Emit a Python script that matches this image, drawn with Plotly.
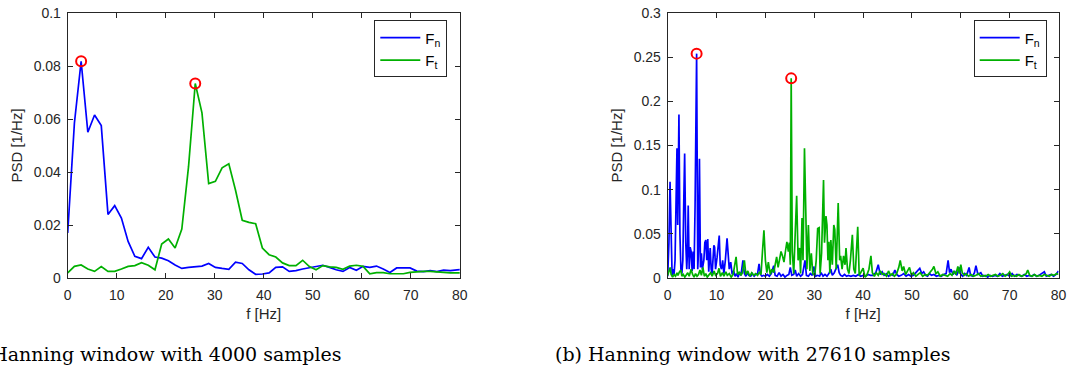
import plotly.graph_objects as go

# ---------------- data: (a) 4000 samples ----------------
DF_A = 1.37
psd_fn_a = [0.017, 0.0585, 0.0818, 0.055, 0.0615, 0.0575, 0.024, 0.0273, 0.0226, 0.0138,
            0.0082, 0.0073, 0.0116, 0.0079, 0.0075, 0.0065, 0.0049, 0.0036, 0.004, 0.0043,
            0.0045, 0.0055, 0.004, 0.0036, 0.0033, 0.006, 0.0055, 0.0031, 0.0014, 0.0015,
            0.0019, 0.004, 0.0042, 0.0025, 0.0028, 0.0034, 0.0038, 0.0044, 0.0048, 0.004,
            0.0031, 0.0025, 0.004, 0.0029, 0.0044, 0.004, 0.0045, 0.0034, 0.0021, 0.0038,
            0.0039, 0.0038, 0.0026, 0.0024, 0.0028, 0.0024, 0.003, 0.0028, 0.0031, 0.0032]
psd_ft_a = [0.0019, 0.0044, 0.0049, 0.0034, 0.0025, 0.0043, 0.0025, 0.0025, 0.0034, 0.0044,
            0.0047, 0.0058, 0.0048, 0.0031, 0.0128, 0.0147, 0.0113, 0.0185, 0.042, 0.0734,
            0.0623, 0.0356, 0.0365, 0.0416, 0.0431, 0.0331, 0.0218, 0.021, 0.0205, 0.0113,
            0.0088, 0.0079, 0.0057, 0.0047, 0.0047, 0.0067, 0.0043, 0.0031, 0.0047, 0.0042,
            0.004, 0.0033, 0.0045, 0.0048, 0.0044, 0.0016, 0.002, 0.002, 0.0016, 0.0015,
            0.0016, 0.0021, 0.0024, 0.0025, 0.0025, 0.0023, 0.0019, 0.0019, 0.0019, 0.0019]
f_a = [round(i * DF_A, 3) for i in range(len(psd_fn_a))]

# ---------------- data: (b) 27610 samples ----------------
f_fn_b = [0.0, 0.25, 0.48, 0.7, 0.9, 1.1, 1.3, 1.5, 1.7, 1.9, 2.05, 2.3, 2.5, 2.7, 2.9, 3.1, 3.3, 3.47,
          3.7, 3.9, 4.05, 4.2, 4.4, 4.6, 4.8, 5.0, 5.2, 5.4, 5.6, 5.92, 6.15, 6.3, 6.5, 6.7, 6.9, 7.1,
          7.4, 7.6, 7.8, 8.0, 8.2, 8.4, 8.7, 8.9, 9.1, 9.45, 9.6, 9.8, 10.1, 10.55, 10.75, 11.0, 11.25,
          11.5, 11.8, 12.15, 12.6, 12.9, 13.2, 13.5, 13.8, 14.1, 14.4, 14.7, 15.0, 15.4, 15.7, 16.0,
          16.3, 16.6, 17.0, 17.3, 17.7, 18.0, 18.4, 18.7, 19.0, 19.3, 19.6, 20.0, 20.4, 20.8, 21.2,
          21.7, 22.0, 22.4, 22.8, 23.2, 23.6, 24.0, 24.4, 24.8, 25.1, 25.4, 25.8, 26.1, 26.4, 26.8,
          27.2, 27.6, 28.1, 28.4, 28.8, 29.2, 29.6, 29.9, 30.3, 30.7, 31.1, 31.4, 31.8, 32.2, 32.6,
          33.0, 33.4, 33.7, 34.1, 34.5, 34.8, 35.1, 35.4, 35.8, 36.2, 36.6, 37.0, 37.5, 38.0, 38.5,
          39.0, 39.5, 40.0, 40.5, 41.0, 41.5, 42.0, 42.6, 43.1, 43.5, 43.9, 44.3, 44.8, 45.2, 45.7,
          46.1, 46.5, 46.9, 47.3, 47.8, 48.3, 48.8, 49.3, 49.8, 50.3, 50.8, 51.3, 51.6, 52.0, 52.4,
          52.8, 53.2, 53.6, 54.0, 54.5, 55.0, 55.5, 56.0, 56.5, 57.0, 57.4, 57.7, 58.0, 58.4, 58.8,
          59.2, 59.7, 60.0, 60.4, 60.8, 61.2, 61.7, 62.0, 62.4, 62.8, 63.1, 63.5, 64.1, 64.5, 65.0,
          65.5, 66.0, 66.5, 67.0, 67.5, 68.0, 68.5, 69.0, 69.5, 70.0, 70.5, 71.0, 71.5, 72.0, 72.5,
          73.0, 73.5, 74.0, 74.5, 75.0, 75.5, 76.0, 76.5, 77.1, 77.5, 78.0, 78.5, 79.0, 79.5, 80.0]
psd_fn_b = [0.002, 0.04, 0.109, 0.03, 0.003, 0.01, 0.004, 0.02, 0.09, 0.147, 0.06, 0.185, 0.05, 0.01,
            0.005, 0.02, 0.09, 0.141, 0.04, 0.01, 0.03, 0.082, 0.01, 0.035, 0.03, 0.008, 0.03, 0.01,
            0.08, 0.254, 0.01, 0.03, 0.135, 0.012, 0.028, 0.01, 0.02, 0.04, 0.043, 0.02, 0.044, 0.007,
            0.034, 0.01, 0.005, 0.037, 0.035, 0.01, 0.023, 0.048, 0.015, 0.01, 0.02, 0.005, 0.02,
            0.045, 0.01, 0.018, 0.004, 0.008, 0.002, 0.005, 0.001, 0.006, 0.003, 0.02, 0.005, 0.002,
            0.006, 0.003, 0.002, 0.005, 0.002, 0.004, 0.005, 0.016, 0.004, 0.002, 0.003, 0.002, 0.004,
            0.002, 0.005, 0.014, 0.003, 0.002, 0.006, 0.002, 0.004, 0.001, 0.003, 0.004, 0.012, 0.003,
            0.004, 0.009, 0.002, 0.005, 0.002, 0.004, 0.02, 0.003, 0.002, 0.005, 0.003, 0.013, 0.002,
            0.003, 0.002, 0.006, 0.002, 0.004, 0.002, 0.005, 0.01, 0.003, 0.006, 0.012, 0.015, 0.006,
            0.003, 0.002, 0.004, 0.002, 0.003, 0.002, 0.003, 0.002, 0.004, 0.002, 0.003, 0.002, 0.004,
            0.003, 0.003, 0.006, 0.015, 0.004, 0.007, 0.003, 0.005, 0.002, 0.004, 0.003, 0.009, 0.004,
            0.002, 0.003, 0.005, 0.002, 0.004, 0.002, 0.003, 0.006, 0.009, 0.011, 0.005, 0.007, 0.003,
            0.002, 0.005, 0.003, 0.004, 0.002, 0.003, 0.002, 0.004, 0.005, 0.02, 0.006, 0.01, 0.004,
            0.007, 0.003, 0.012, 0.004, 0.002, 0.005, 0.003, 0.012, 0.003, 0.002, 0.006, 0.014, 0.004,
            0.006, 0.002, 0.003, 0.001, 0.003, 0.002, 0.003, 0.002, 0.005, 0.002, 0.003, 0.004, 0.002,
            0.005, 0.002, 0.004, 0.003, 0.002, 0.004, 0.002, 0.003, 0.002, 0.004, 0.002, 0.003, 0.005,
            0.007, 0.002, 0.003, 0.004, 0.002, 0.004, 0.008]

f_ft_b = [0.0, 0.3, 0.5, 0.7, 1.0, 1.3, 1.6, 1.9, 2.1, 2.4, 2.7, 2.9, 3.2, 3.5, 3.8, 4.1, 4.4, 4.8, 5.1,
          5.4, 5.7, 6.0, 6.3, 6.6, 6.9, 7.2, 7.5, 7.8, 8.1, 8.4, 8.8, 9.1, 9.5, 9.8, 10.2, 10.5, 10.8,
          11.2, 11.5, 11.9, 12.2, 12.6, 13.0, 13.4, 14.0, 14.3, 14.7, 15.0, 15.3, 15.7, 16.0, 16.4,
          16.8, 17.2, 17.6, 18.0, 18.4, 18.8, 19.1, 19.4, 19.7, 20.0, 20.3, 20.6, 21.0, 21.3, 21.7,
          22.0, 22.3, 22.6, 22.9, 23.2, 23.5, 23.8, 24.1, 24.4, 24.7, 24.9, 25.1, 25.28, 25.5, 25.8,
          26.1, 26.4, 26.7, 27.0, 27.2, 27.5, 27.7, 28.0, 28.3, 28.5, 28.8, 29.1, 29.4, 29.7, 30.1,
          30.4, 30.7, 31.0, 31.2, 31.5, 31.9, 32.1, 32.4, 32.6, 32.8, 33.0, 33.2, 33.4, 33.7, 34.0,
          34.2, 34.5, 34.9, 35.2, 35.4, 35.7, 36.0, 36.3, 36.5, 36.8, 37.1, 37.4, 37.8, 38.1, 38.4,
          38.9, 39.2, 39.6, 40.0, 40.4, 40.8, 41.2, 41.6, 41.9, 42.3, 42.7, 43.1, 43.5, 43.9, 44.3,
          44.8, 45.2, 45.6, 46.0, 46.4, 46.8, 47.3, 47.6, 48.0, 48.3, 48.7, 49.1, 49.5, 49.9, 50.3,
          50.8, 51.2, 51.7, 52.2, 52.7, 53.2, 53.7, 54.2, 54.5, 54.9, 55.3, 55.8, 56.3, 56.8, 57.3,
          57.8, 58.2, 58.6, 59.0, 59.4, 59.7, 60.0, 60.3, 60.7, 61.1, 61.6, 62.1, 62.6, 63.1, 63.6,
          64.1, 64.6, 65.1, 65.6, 66.1, 66.6, 67.1, 67.6, 68.1, 68.6, 69.1, 69.6, 70.0, 70.4, 70.9,
          71.4, 71.9, 72.4, 72.9, 73.4, 73.7, 74.1, 74.6, 75.1, 75.6, 76.1, 76.6, 77.1, 77.6, 78.1,
          78.6, 79.1, 79.6, 80.0]
psd_ft_b = [0.003, 0.008, 0.012, 0.004, 0.001, 0.004, 0.002, 0.006, 0.003, 0.007, 0.009, 0.002, 0.004,
            0.001, 0.003, 0.006, 0.002, 0.01, 0.004, 0.001, 0.005, 0.002, 0.004, 0.009, 0.003, 0.012,
            0.002, 0.005, 0.001, 0.003, 0.006, 0.002, 0.008, 0.003, 0.005, 0.011, 0.002, 0.006, 0.002,
            0.007, 0.003, 0.005, 0.001, 0.004, 0.024, 0.004, 0.007, 0.003, 0.006, 0.02, 0.004, 0.008,
            0.002, 0.006, 0.003, 0.005, 0.003, 0.007, 0.004, 0.03, 0.054, 0.02, 0.006, 0.018, 0.004,
            0.01, 0.006, 0.015, 0.024, 0.012, 0.02, 0.03, 0.025, 0.018, 0.03, 0.041, 0.03, 0.04, 0.015,
            0.226, 0.03, 0.005, 0.05, 0.093, 0.02, 0.034, 0.005, 0.068, 0.02, 0.147, 0.066, 0.01, 0.06,
            0.008, 0.028, 0.005, 0.003, 0.02, 0.056, 0.057, 0.005, 0.028, 0.111, 0.04, 0.07, 0.06,
            0.02, 0.041, 0.005, 0.043, 0.015, 0.06, 0.055, 0.01, 0.085, 0.02, 0.025, 0.01, 0.025,
            0.015, 0.034, 0.01, 0.005, 0.02, 0.049, 0.01, 0.005, 0.058, 0.003, 0.008, 0.011, 0.001,
            0.004, 0.01, 0.025, 0.006, 0.002, 0.006, 0.003, 0.008, 0.004, 0.005, 0.002, 0.008, 0.003,
            0.005, 0.002, 0.004, 0.012, 0.02, 0.008, 0.013, 0.004, 0.008, 0.012, 0.003, 0.006, 0.002,
            0.004, 0.006, 0.002, 0.004, 0.003, 0.006, 0.01, 0.013, 0.005, 0.007, 0.002, 0.004, 0.003,
            0.002, 0.005, 0.003, 0.008, 0.004, 0.013, 0.005, 0.015, 0.006, 0.003, 0.005, 0.002, 0.004,
            0.002, 0.003, 0.005, 0.002, 0.003, 0.002, 0.004, 0.002, 0.003, 0.004, 0.002, 0.003, 0.005,
            0.002, 0.004, 0.007, 0.002, 0.003, 0.002, 0.004, 0.002, 0.003, 0.005, 0.009, 0.003, 0.002,
            0.004, 0.002, 0.003, 0.002, 0.004, 0.003, 0.002, 0.004, 0.003, 0.005, 0.004]

legend_names = ["F<sub>n</sub>", "F<sub>t</sub>"]
captions = ["(a) Hanning window with 4000 samples", "(b) Hanning window with 27610 samples"]
x_title = "f [Hz]"
y_title = "PSD [1/Hz]"

BLUE = "#0000FF"
GREEN = "#00B000"
RED = "#FF0000"
AX = "#262626"
W, H = 1067, 370
TOP, BOT = 13.3, 278.0          # plot area top / bottom in pixels
PH = BOT - TOP


def py(pix):                     # pixel row -> paper y (relative to plot area)
    return (BOT - pix) / PH


fig = go.Figure()


def peak(xs, ys):
    i = max(range(len(ys)), key=lambda k: ys[k])
    return xs[i], ys[i]


panels = [
    dict(xa="x", ya="y", leg="legend", series=[(f_a, psd_fn_a), (f_a, psd_ft_a)]),
    dict(xa="x2", ya="y2", leg="legend2", series=[(f_fn_b, psd_fn_b), (f_ft_b, psd_ft_b)]),
]
for p in panels:
    for (xs, ys), name, col in zip(p["series"], legend_names, [BLUE, GREEN]):
        fig.add_trace(go.Scatter(x=xs, y=ys, mode="lines", name=name, legend=p["leg"],
                                 line=dict(color=col, width=1.7), xaxis=p["xa"], yaxis=p["ya"]))
    for xs, ys in p["series"]:
        px_, py_ = peak(xs, ys)
        fig.add_trace(go.Scatter(x=[px_], y=[py_], mode="markers", showlegend=False,
                                 marker=dict(symbol="circle-open", size=10, color=RED,
                                             line=dict(width=2, color=RED)),
                                 xaxis=p["xa"], yaxis=p["ya"], cliponaxis=False))

SANS = "Liberation Sans, Arial, sans-serif"
font_tick = dict(family=SANS, size=14, color=AX)
font_title = dict(family=SANS, size=15, color=AX)

common_x = dict(range=[0, 80], tickmode="array", tickvals=list(range(0, 81, 10)),
                showline=True, linecolor=AX, linewidth=1, mirror="ticks", ticks="inside",
                ticklen=5, tickcolor=AX, tickwidth=1, showgrid=False, zeroline=False,
                tickfont=font_tick, ticklabelstandoff=4, automargin=False,
                title=dict(text=x_title, font=font_title, standoff=6))
common_y = dict(showline=True, linecolor=AX, linewidth=1, mirror="ticks", ticks="inside",
                ticklen=5, tickcolor=AX, tickwidth=1, showgrid=False, zeroline=False,
                tickfont=font_tick, ticklabelstandoff=3, automargin=False,
                title=dict(text=y_title, font=font_title, standoff=7))

leg_common = dict(y=py(20.7), xanchor="right", yanchor="top",
                  bordercolor=AX, borderwidth=1, bgcolor="white",
                  font=dict(family=SANS, size=15, color="black"),
                  tracegroupgap=0, itemwidth=40)

fig.update_layout(
    width=W, height=H, margin=dict(l=0, r=0, t=TOP, b=H - BOT, autoexpand=False),
    paper_bgcolor="white", plot_bgcolor="white",
    xaxis=dict(domain=[67.7 / W, 459.7 / W], anchor="y", **common_x),
    yaxis=dict(domain=[0, 1], anchor="x", range=[0, 0.1],
               tickvals=[0, 0.02, 0.04, 0.06, 0.08, 0.1], **common_y),
    xaxis2=dict(domain=[667.7 / W, 1058.5 / W], anchor="y2", **common_x),
    yaxis2=dict(domain=[0, 1], anchor="x2", range=[0, 0.3],
                tickvals=[0, 0.05, 0.1, 0.15, 0.2, 0.25, 0.3], **common_y),
    legend=dict(x=447.3 / W, **leg_common),
    legend2=dict(x=1046.7 / W, **leg_common),
    showlegend=True,
)

cap_font = dict(family="DejaVu Serif, serif", size=19, color="black")
fig.add_annotation(text=captions[0], xref="paper", yref="paper", x=344 / W, y=py(354),
                   xanchor="right", yanchor="middle", showarrow=False, font=cap_font)
fig.add_annotation(text=captions[1], xref="paper", yref="paper", x=952 / W, y=py(354),
                   xanchor="right", yanchor="middle", showarrow=False, font=cap_font)

fig.write_html("out.html")
